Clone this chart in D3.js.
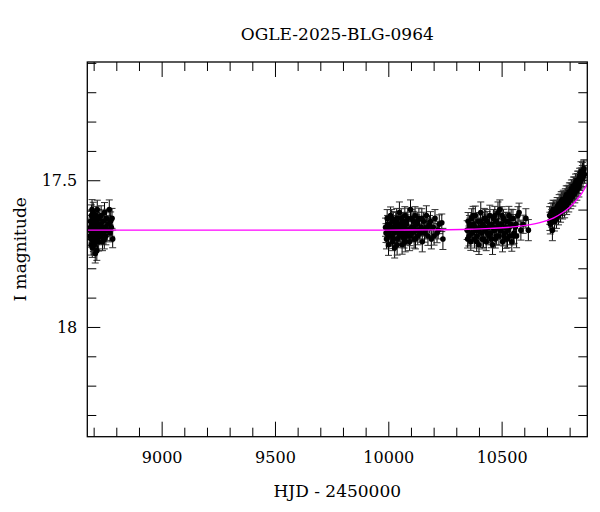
<!DOCTYPE html>
<html><head><meta charset="utf-8">
<script src="https://cdn.jsdelivr.net/npm/d3@7"></script>
<style>body{margin:0;background:#fff} svg{display:block}</style>
</head><body>
<svg id="chart" width="600" height="512"></svg>
<script>
// ---------- data ----------
const title = "OGLE-2025-BLG-0964";
const xLabel = "HJD - 2450000";
const yLabel = "I magnitude";
const xDomain = [8672, 10878];
const yDomain = [17.097, 18.374];
const xMajorTicks = [9000, 9500, 10000, 10500];
const xMinorTicks = [8700,8800,8900,9100,9200,9300,9400,9600,9700,9800,9900,10100,10200,10300,10400,10600,10700,10800];
const yMajorTicks = [17.5, 18];
const yMinorTicks = [17.1,17.2,17.3,17.4,17.6,17.7,17.8,17.9,18.1,18.2,18.3];

// [HJD-2450000, I mag, error]
const season1 = [[8684,17.67,0.030],[8686,17.64,0.034],[8688,17.70,0.028],[8690,17.62,0.036],[8692,17.68,0.031],[8694,17.73,0.033],[8696,17.65,0.029],[8698,17.61,0.035],[8700,17.69,0.030],[8702,17.66,0.032],[8704,17.72,0.034],[8706,17.63,0.028],[8708,17.67,0.031],[8710,17.70,0.036],[8712,17.64,0.030],[8714,17.74,0.033],[8716,17.60,0.032],[8718,17.68,0.029],[8720,17.65,0.034],[8722,17.71,0.031],[8724,17.63,0.030],[8727,17.67,0.035],[8730,17.69,0.028],[8733,17.62,0.033],[8736,17.66,0.031],[8739,17.71,0.030],[8742,17.64,0.036],[8745,17.68,0.029],[8748,17.61,0.034],[8751,17.66,0.032],[8754,17.69,0.030],[8757,17.63,0.031],[8760,17.67,0.035],[8763,17.65,0.029],[8769,17.60,0.033],[8772,17.68,0.030],[8775,17.64,0.032],[8778,17.66,0.031],[8781,17.63,0.034],[8784,17.70,0.030],
  [8685,17.69,0.033],[8687,17.66,0.031],[8689,17.72,0.035],[8691,17.65,0.030],[8693,17.60,0.034],[8695,17.68,0.032],[8697,17.63,0.029],[8699,17.71,0.033],[8701,17.67,0.031],[8703,17.64,0.030],[8705,17.69,0.034],[8707,17.75,0.032],[8709,17.66,0.030],[8711,17.62,0.031],[8713,17.68,0.033],[8715,17.65,0.030],[8717,17.70,0.034],[8719,17.63,0.031],[8721,17.67,0.032],[8725,17.69,0.030],[8729,17.65,0.033],[8735,17.68,0.031],[8741,17.66,0.030],[8747,17.70,0.034]];
const season2 = [[9988,17.66,0.031],[9992,17.70,0.034],[9995,17.63,0.030],[9998,17.68,0.033],[10001,17.72,0.036],[10004,17.65,0.030],[10007,17.67,0.032],[10010,17.62,0.029],[10013,17.69,0.034],[10016,17.66,0.031],[10019,17.71,0.030],[10022,17.64,0.033],[10025,17.68,0.032],[10028,17.73,0.035],[10031,17.65,0.030],[10034,17.67,0.031],[10037,17.63,0.034],[10040,17.70,0.030],[10043,17.66,0.032],[10046,17.68,0.029],[10049,17.61,0.036],[10052,17.69,0.031],[10055,17.65,0.030],[10058,17.67,0.033],[10061,17.72,0.032],[10064,17.64,0.030],[10067,17.66,0.034],[10070,17.70,0.031],[10073,17.62,0.030],[10076,17.68,0.033],[10079,17.65,0.032],[10082,17.69,0.030],[10086,17.63,0.035],[10090,17.67,0.031],[10094,17.71,0.030],[10098,17.60,0.033],[10102,17.66,0.032],[10106,17.68,0.030],[10110,17.64,0.034],[10114,17.70,0.031],[10118,17.62,0.030],[10122,17.67,0.033],[10126,17.65,0.032],[10130,17.69,0.030],[10135,17.63,0.035],[10140,17.68,0.031],[10145,17.66,0.030],[10150,17.71,0.034],[10156,17.64,0.031],[10162,17.67,0.030],[10168,17.62,0.033],[10175,17.69,0.032],[10182,17.65,0.030],[10190,17.70,0.034],[10198,17.66,0.031],[10206,17.63,0.030],[10215,17.68,0.033],[10225,17.65,0.032],[10236,17.645,0.030],[10241,17.70,0.036],
  [9990,17.68,0.032],[9997,17.65,0.030],[10003,17.69,0.034],[10009,17.66,0.031],[10015,17.63,0.030],[10021,17.70,0.033],[10027,17.67,0.031],[10033,17.64,0.030],[10039,17.72,0.035],[10045,17.65,0.031],[10051,17.68,0.030],[10057,17.63,0.033],[10063,17.69,0.031],[10069,17.66,0.030],[10075,17.71,0.034],[10081,17.64,0.031],[10088,17.67,0.030],[10096,17.69,0.033],[10104,17.63,0.031],[10112,17.66,0.030],[10120,17.70,0.034],[10128,17.64,0.031],[10138,17.67,0.030],[10148,17.63,0.033],[10160,17.68,0.031],[10172,17.66,0.030],[10186,17.64,0.033],[10202,17.69,0.031],[10220,17.67,0.030]];
const season3 = [[10348,17.67,0.032],[10352,17.64,0.030],[10356,17.69,0.034],[10360,17.66,0.031],[10364,17.71,0.029],[10368,17.63,0.033],[10372,17.68,0.030],[10376,17.65,0.035],[10380,17.70,0.031],[10384,17.62,0.032],[10388,17.67,0.029],[10392,17.69,0.034],[10396,17.64,0.030],[10400,17.72,0.033],[10404,17.66,0.031],[10408,17.61,0.036],[10412,17.68,0.030],[10416,17.65,0.032],[10420,17.70,0.029],[10424,17.63,0.034],[10428,17.67,0.031],[10432,17.71,0.030],[10436,17.64,0.033],[10440,17.66,0.032],[10444,17.69,0.030],[10448,17.62,0.035],[10452,17.68,0.031],[10456,17.65,0.029],[10460,17.72,0.033],[10464,17.63,0.030],[10468,17.67,0.034],[10472,17.70,0.031],[10476,17.64,0.032],[10480,17.66,0.030],[10484,17.61,0.036],[10488,17.69,0.031],[10492,17.60,0.033],[10496,17.67,0.030],[10500,17.65,0.032],[10504,17.71,0.034],[10508,17.63,0.031],[10512,17.68,0.030],[10516,17.66,0.033],[10520,17.70,0.032],[10524,17.64,0.030],[10528,17.67,0.034],[10532,17.62,0.031],[10536,17.69,0.030],[10540,17.65,0.033],[10545,17.71,0.032],[10550,17.63,0.030],[10555,17.68,0.035],[10560,17.66,0.031],[10566,17.69,0.040],[10572,17.62,0.030],[10577,17.61,0.032],[10585,17.67,0.034],[10595,17.65,0.031],[10607,17.63,0.033],[10618,17.67,0.036],
  [10350,17.70,0.031],[10358,17.65,0.030],[10366,17.68,0.034],[10374,17.62,0.031],[10382,17.66,0.030],[10390,17.71,0.033],[10398,17.67,0.031],[10406,17.64,0.030],[10414,17.70,0.034],[10422,17.66,0.031],[10430,17.63,0.030],[10438,17.68,0.033],[10446,17.65,0.031],[10454,17.70,0.030],[10462,17.66,0.034],[10470,17.62,0.031],[10478,17.69,0.030],[10486,17.65,0.033],[10494,17.67,0.031],[10502,17.62,0.030],[10510,17.69,0.034],[10518,17.64,0.031],[10526,17.70,0.030],[10534,17.66,0.033],[10542,17.63,0.031],[10552,17.69,0.030],[10563,17.65,0.033]];
const season4 = [[10712,17.62,0.030],[10715,17.65,0.033],[10718,17.61,0.031],[10721,17.63,0.030],[10724,17.67,0.036],[10727,17.60,0.032],[10730,17.62,0.030],[10733,17.64,0.033],[10736,17.60,0.031],[10739,17.61,0.030],[10742,17.63,0.034],[10745,17.59,0.031],[10748,17.61,0.030],[10751,17.62,0.032],[10754,17.58,0.031],[10757,17.60,0.030],[10760,17.61,0.033],[10763,17.57,0.031],[10766,17.59,0.030],[10769,17.60,0.032],[10772,17.565,0.031],[10775,17.58,0.030],[10778,17.595,0.033],[10781,17.56,0.031],[10784,17.57,0.030],[10787,17.585,0.032],[10790,17.55,0.031],[10793,17.565,0.030],[10796,17.575,0.033],[10799,17.54,0.031],[10802,17.555,0.030],[10805,17.565,0.032],[10808,17.53,0.031],[10811,17.545,0.030],[10814,17.555,0.033],[10817,17.52,0.031],[10820,17.535,0.030],[10823,17.545,0.032],[10826,17.51,0.031],[10829,17.525,0.030],[10832,17.535,0.033],[10835,17.50,0.031],[10838,17.515,0.030],[10841,17.525,0.032],[10844,17.49,0.031],[10847,17.505,0.030],[10850,17.47,0.033],[10853,17.495,0.031],[10856,17.48,0.030],[10859,17.49,0.032],[10862,17.465,0.031],[10865,17.48,0.030],
  [10713,17.64,0.031],[10719,17.62,0.030],[10725,17.61,0.033],[10731,17.60,0.031],[10737,17.62,0.030],[10743,17.60,0.032],[10749,17.59,0.031],[10755,17.60,0.030],[10761,17.58,0.033],[10767,17.57,0.031],[10773,17.58,0.030],[10779,17.57,0.032],[10785,17.55,0.031],[10791,17.56,0.030],[10797,17.55,0.033],[10803,17.54,0.031],[10809,17.54,0.030],[10815,17.53,0.032],[10821,17.52,0.031],[10827,17.52,0.030],[10833,17.51,0.033],[10839,17.50,0.031],[10845,17.50,0.030],[10851,17.49,0.032],[10857,17.47,0.031],[10863,17.46,0.030]];

// model curve
const modelT   = [8672, 9500, 10000, 10200, 10350, 10450, 10550, 10620, 10680, 10730, 10770, 10800, 10830, 10855, 10878];
const modelMag = [17.670, 17.670, 17.670, 17.669, 17.667, 17.664, 17.659, 17.652, 17.642, 17.628, 17.610, 17.592, 17.568, 17.543, 17.512];

// ---------- drawing ----------
const svg = d3.select("#chart");
const L = 87.3, R = 587.3, T = 62, B = 436.7;
const x = d3.scaleLinear().domain(xDomain).range([L, R]);
const y = d3.scaleLinear().domain(yDomain).range([T, B]);
const font = "'DejaVu Serif', 'Liberation Serif', serif";

const plot = svg.append("g");
svg.append("clipPath").attr("id","clip").append("rect")
  .attr("x",L).attr("y",T).attr("width",R-L).attr("height",B-T);
plot.attr("clip-path","url(#clip)");

const obs = [].concat(season1, season2, season3, season4);
const cap = 3.5;
const eb = plot.append("g").attr("stroke","#000").attr("stroke-width",1);
obs.forEach(d => {
  const cx = x(d[0]), y1 = y(d[1]-d[2]), y2 = y(d[1]+d[2]);
  eb.append("line").attr("x1",cx).attr("x2",cx).attr("y1",y1).attr("y2",y2);
  eb.append("line").attr("x1",cx-cap).attr("x2",cx+cap).attr("y1",y1).attr("y2",y1).attr("stroke","#333");
  eb.append("line").attr("x1",cx-cap).attr("x2",cx+cap).attr("y1",y2).attr("y2",y2).attr("stroke","#333");
});
plot.append("g").selectAll("circle").data(obs).join("circle")
  .attr("cx", d => x(d[0])).attr("cy", d => y(d[1])).attr("r", 2.8).attr("fill","#000");

const model = modelT.map((t,i) => [t, modelMag[i]]);
plot.append("path").datum(model)
  .attr("d", d3.line().x(d => x(d[0])).y(d => y(d[1])).curve(d3.curveMonotoneX))
  .attr("fill","none").attr("stroke","#ff00ff").attr("stroke-width",1.4);

// axes
function styleAxis(g){
  g.select(".domain").remove();
  g.selectAll(".tick line").attr("stroke","#000").attr("stroke-width",1);
  g.selectAll("text").attr("font-family",font).attr("font-size",16).attr("fill","#000");
}
svg.append("g").attr("transform",`translate(0,${B})`)
  .call(d3.axisBottom(x).tickValues(xMajorTicks).tickSize(-15).tickPadding(15).tickFormat(d3.format("d"))).call(styleAxis);
svg.append("g").attr("transform",`translate(0,${B})`)
  .call(d3.axisBottom(x).tickValues(xMinorTicks).tickSize(-9).tickFormat("")).call(styleAxis);
svg.append("g").attr("transform",`translate(0,${T})`)
  .call(d3.axisTop(x).tickValues(xMajorTicks).tickSize(-15).tickFormat("")).call(styleAxis);
svg.append("g").attr("transform",`translate(0,${T})`)
  .call(d3.axisTop(x).tickValues(xMinorTicks).tickSize(-9).tickFormat("")).call(styleAxis);
svg.append("g").attr("transform",`translate(${L},0)`)
  .call(d3.axisLeft(y).tickValues(yMajorTicks).tickSize(-13).tickPadding(10).tickFormat(d => d3.format("")(d))).call(styleAxis);
svg.append("g").attr("transform",`translate(${L},0)`)
  .call(d3.axisLeft(y).tickValues(yMinorTicks).tickSize(-9).tickFormat("")).call(styleAxis);
svg.append("g").attr("transform",`translate(${R},0)`)
  .call(d3.axisRight(y).tickValues(yMajorTicks).tickSize(-13).tickFormat("")).call(styleAxis);
svg.append("g").attr("transform",`translate(${R},0)`)
  .call(d3.axisRight(y).tickValues(yMinorTicks).tickSize(-9).tickFormat("")).call(styleAxis);

svg.append("rect").attr("x",L).attr("y",T).attr("width",R-L).attr("height",B-T)
  .attr("fill","none").attr("stroke","#000").attr("stroke-width",1.3);

svg.append("text").attr("x",(L+R)/2).attr("y",39.5).attr("text-anchor","middle")
  .attr("font-family",font).attr("font-size",17).attr("fill","#000").text(title);
svg.append("text").attr("x",(L+R)/2).attr("y",497).attr("text-anchor","middle")
  .attr("font-family",font).attr("font-size",17).attr("fill","#000").text(xLabel);
svg.append("text").attr("transform",`translate(26,${(T+B)/2}) rotate(-90)`).attr("text-anchor","middle")
  .attr("font-family",font).attr("font-size",17).attr("fill","#000").text(yLabel);
</script>
</body></html>
